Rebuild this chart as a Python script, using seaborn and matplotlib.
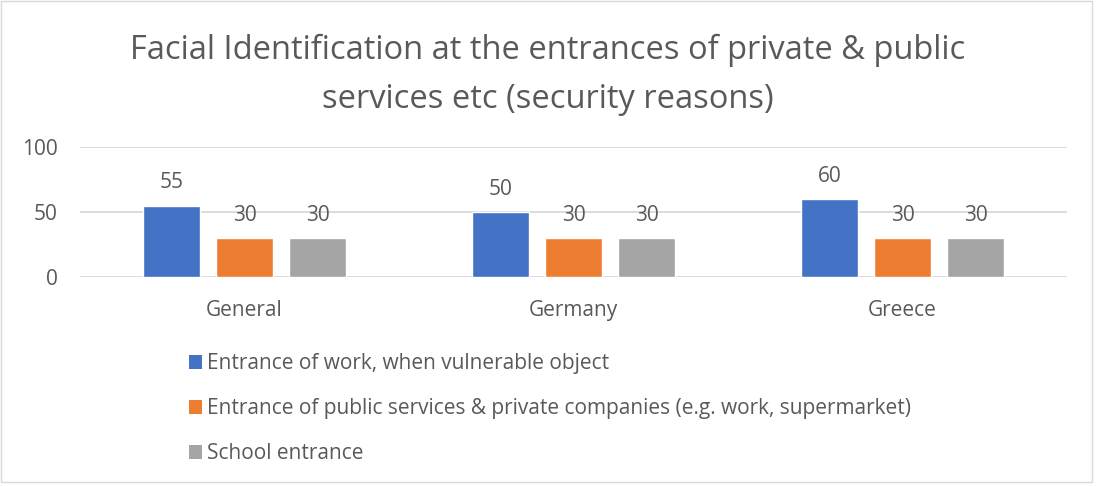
import matplotlib
matplotlib.use("Agg")
import matplotlib.pyplot as plt
from matplotlib.patches import Rectangle, Patch
import seaborn as sns
import pandas as pd

categories = ["General", "Germany", "Greece"]
series_names = [
    "Entrance of work, when vulnerable object",
    "Entrance of public services & private companies (e.g. work, supermarket)",
    "School entrance",
]
work_values = [55, 50, 60]
public_values = [30, 30, 30]
school_values = [30, 30, 30]
y_ticks = [0, 50, 100]
colors = ["#4472C4", "#ED7D31", "#A5A5A5"]
title = "Facial Identification at the entrances of private & public\nservices etc (security reasons)"

rows = []
for name, vals in zip(series_names, [work_values, public_values, school_values]):
    for cat, v in zip(categories, vals):
        rows.append({"category": cat, "series": name, "value": v})
df = pd.DataFrame(rows)

sns.set_theme(style="white")
plt.rcParams["font.family"] = ["Open Sans", "DejaVu Sans"]
text_color = "#595959"
grid_color = "#D9D9D9"

fig = plt.figure(figsize=(10.96, 4.86), dpi=100)
ax = fig.add_axes([0.073, 0.430, 0.9005, 0.2675])

sns.barplot(data=df, x="category", y="value", hue="series", order=categories,
            hue_order=series_names, palette=colors, width=0.666, gap=0.22,
            saturation=1, legend=False, ax=ax)

for container in ax.containers:
    ax.bar_label(container, fmt="%d", padding=9, fontsize=15, color=text_color)

ax.set_ylim(0, 100)
ax.set_xlim(-0.5, 2.5)
ax.set_yticks(y_ticks)
ax.set_yticklabels([str(t) for t in y_ticks])
ax.yaxis.grid(True, color=grid_color, linewidth=1.3)
ax.set_axisbelow(True)
for s in ax.spines.values():
    s.set_visible(False)
ax.tick_params(axis="both", length=0, labelsize=15, colors=text_color)
ax.tick_params(axis="y", pad=16)
ax.tick_params(axis="x", pad=16.5)
ax.set_xlabel("")
ax.set_ylabel("")

fig.text(0.5, 0.846, title, ha="center", va="center", fontsize=23.5,
         color=text_color, linespacing=1.62)

handles = [Patch(facecolor=c, edgecolor="none") for c in colors]
fig.legend(handles, series_names, loc="upper left", bbox_to_anchor=(0.1646, 0.290),
           frameon=False, fontsize=15, labelcolor=text_color,
           handlelength=0.62, handleheight=0.62, handletextpad=0.25,
           labelspacing=1.15, borderaxespad=0)

fig.patches.append(Rectangle((0.001, 0.008), 0.995, 0.99, transform=fig.transFigure,
                             fill=False, edgecolor=grid_color, linewidth=1))

fig.savefig("out.png", dpi=100)
